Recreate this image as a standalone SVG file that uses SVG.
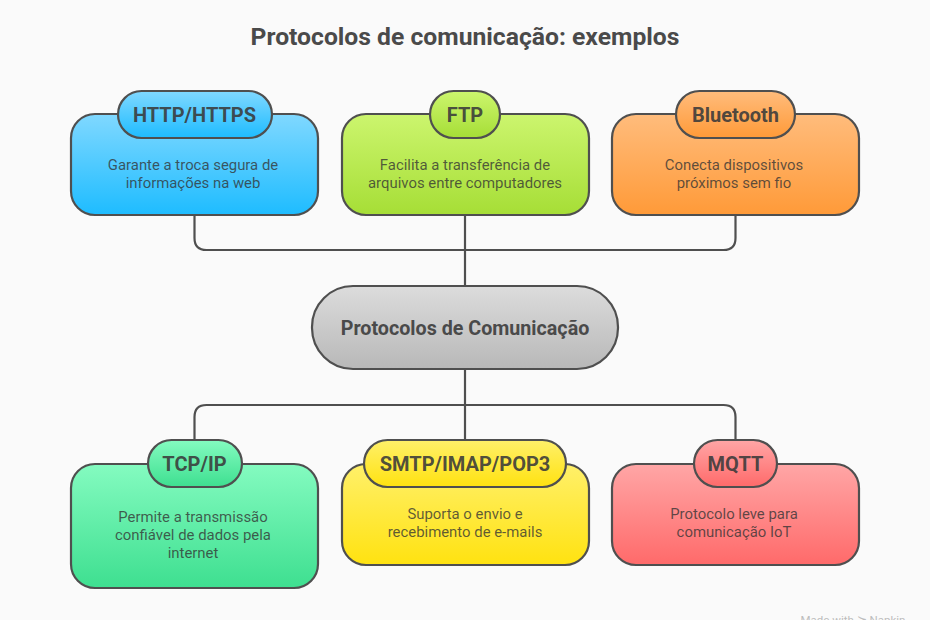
<svg xmlns="http://www.w3.org/2000/svg" width="930" height="620" viewBox="0 0 930 620">
<style>
text{font-family:Roboto,"Liberation Sans",sans-serif;text-anchor:middle}
.t{font-size:24.7px;font-weight:700;fill:#4a4a4a}
.h{font-size:20px;font-weight:700;fill:#3a3a3a;fill-opacity:.9}
.c{font-size:19.7px;font-weight:700;fill:#4a4a4a}
.d{font-size:14.9px;fill:#333;fill-opacity:.78}
.s{stroke:#4f4f4f;stroke-width:2.2}
.l{fill:none;stroke:#4f4f4f;stroke-width:2.2}
</style>
<defs>
<linearGradient id="blue" x1="0" y1="0" x2="0" y2="1"><stop offset="0" stop-color="#80d8ff"/><stop offset="1" stop-color="#1ebcff"/></linearGradient>
<linearGradient id="green" x1="0" y1="0" x2="0" y2="1"><stop offset="0" stop-color="#ccf56e"/><stop offset="1" stop-color="#a6de36"/></linearGradient>
<linearGradient id="orange" x1="0" y1="0" x2="0" y2="1"><stop offset="0" stop-color="#ffbc7c"/><stop offset="1" stop-color="#ff9a38"/></linearGradient>
<linearGradient id="grey" x1="0" y1="0" x2="0" y2="1"><stop offset="0" stop-color="#dcdcdc"/><stop offset="1" stop-color="#b8b8b8"/></linearGradient>
<linearGradient id="teal" x1="0" y1="0" x2="0" y2="1"><stop offset="0" stop-color="#84fbc0"/><stop offset="1" stop-color="#3edf90"/></linearGradient>
<linearGradient id="yellow" x1="0" y1="0" x2="0" y2="1"><stop offset="0" stop-color="#fff06a"/><stop offset="1" stop-color="#ffe210"/></linearGradient>
<linearGradient id="red" x1="0" y1="0" x2="0" y2="1"><stop offset="0" stop-color="#ffa6a6"/><stop offset="1" stop-color="#ff6a6a"/></linearGradient>
</defs>
<rect width="930" height="620" fill="#fafafa"/>
<text class="t" x="465" y="45">Protocolos de comunicação: exemplos</text>
<g id="connectors">
<path class="l" d="M194.500 215V238Q194.500 250 206.500 250H723.500Q735.500 250 735.500 238V215"/>
<path class="l" d="M465 215V286"/>
<path class="l" d="M465 369V440"/>
<path class="l" d="M194.500 440V417Q194.500 405 206.500 405H723.500Q735.500 405 735.500 417V440"/>
</g>
<g id="http">
<rect class="s" x="71" y="114" width="247" height="101" rx="24" fill="url(#blue)"/>
<rect class="s" x="118" y="91" width="154" height="47" rx="23.500" fill="url(#blue)"/>
<text class="h" x="194.500" y="121.500">HTTP/HTTPS</text>
<text class="d" x="193" y="170">Garante a troca segura de</text>
<text class="d" x="193" y="188">informações na web</text>
</g>
<g id="ftp">
<rect class="s" x="342" y="114" width="247" height="101" rx="24" fill="url(#green)"/>
<rect class="s" x="430" y="91" width="70" height="47" rx="23.500" fill="url(#green)"/>
<text class="h" x="465" y="121.500">FTP</text>
<text class="d" x="465" y="170">Facilita a transferência de</text>
<text class="d" x="465" y="188">arquivos entre computadores</text>
</g>
<g id="bluetooth">
<rect class="s" x="612" y="114" width="247" height="101" rx="24" fill="url(#orange)"/>
<rect class="s" x="676" y="91" width="119" height="47" rx="23.500" fill="url(#orange)"/>
<text class="h" x="735.500" y="121.500">Bluetooth</text>
<text class="d" x="734" y="170">Conecta dispositivos</text>
<text class="d" x="734" y="188">próximos sem fio</text>
</g>
<g id="center">
<rect class="s" x="312" y="286" width="306" height="83" rx="41" fill="url(#grey)"/>
<text class="c" x="465" y="335">Protocolos de Comunicação</text>
</g>
<g id="tcp">
<rect class="s" x="71" y="464" width="247" height="124" rx="24" fill="url(#teal)"/>
<rect class="s" x="148" y="440" width="94" height="47" rx="23.500" fill="url(#teal)"/>
<text class="h" x="194.500" y="471">TCP/IP</text>
<text class="d" x="193" y="522">Permite a transmissão</text>
<text class="d" x="193" y="540">confiável de dados pela</text>
<text class="d" x="193" y="558">internet</text>
</g>
<g id="smtp">
<rect class="s" x="342" y="464" width="247" height="101" rx="24" fill="url(#yellow)"/>
<rect class="s" x="364" y="440" width="202" height="47" rx="23.500" fill="url(#yellow)"/>
<text class="h" x="465" y="471">SMTP/IMAP/POP3</text>
<text class="d" x="465" y="519">Suporta o envio e</text>
<text class="d" x="465" y="537">recebimento de e-mails</text>
</g>
<g id="mqtt">
<rect class="s" x="612" y="464" width="247" height="101" rx="24" fill="url(#red)"/>
<rect class="s" x="694" y="440" width="83" height="47" rx="23.500" fill="url(#red)"/>
<text class="h" x="735.500" y="471">MQTT</text>
<text class="d" x="734" y="519">Protocolo leve para</text>
<text class="d" x="734" y="537">comunicação IoT</text>
</g>
<text x="853" y="624" font-size="11.500" fill="#bdbdbd">Made with ⋩ Napkin</text>
</svg>
